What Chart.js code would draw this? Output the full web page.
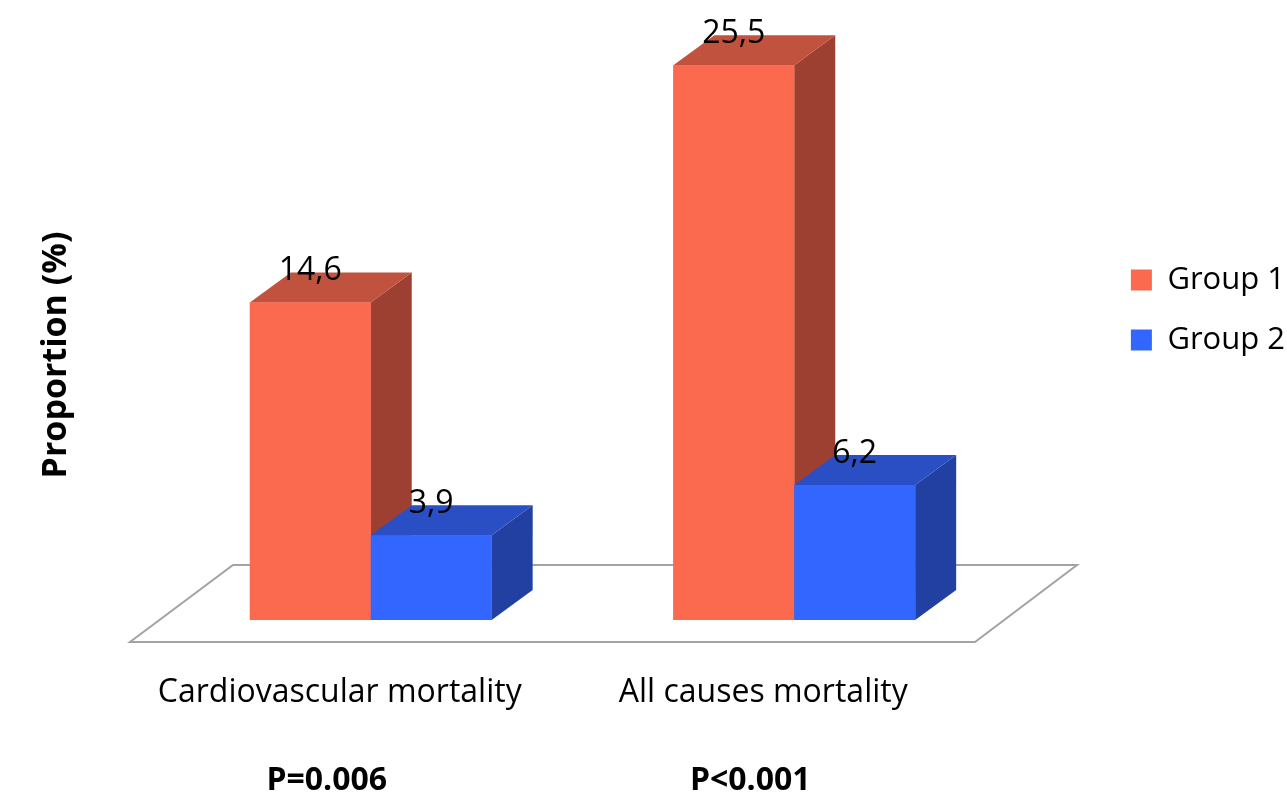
<!DOCTYPE html>
<html>
<head>
<meta charset="utf-8">
<title>Mortality by group</title>
<script src="https://cdn.jsdelivr.net/npm/chart.js@4.4.1/dist/chart.umd.min.js"></script>
<style>
    html, body { margin: 0; padding: 0; background: #ffffff; }
    canvas { display: block; }
</style>
</head>
<body>
<canvas id="mortalityChart" width="1287" height="798"></canvas>
<script>
// Chart data
const categories = ["Cardiovascular mortality", "All causes mortality"];
const seriesLabels = ["Group 1", "Group 2"];
const group1Values = [14.6, 25.5];
const group2Values = [3.9, 6.2];
const pValueLabels = ["P=0.006", "P<0.001"];
const yAxisTitle = "Proportion (%)";
const yMax = 28.5;

const FONT = "'Open Sans', sans-serif";
const PLOT_LEFT = 159;
const PLOT_RIGHT = 1006;
const PLOT_BOTTOM = 620;
const LEGEND_SHIFT = 8; // pushes legend towards the right edge
const DEPTH = { x: 41, y: -30 }; // 3D extrusion of the blocks

const formatValue = (v) => v.toFixed(1).replace(".", ",");

function fillPoly(ctx, pts, color) {
    ctx.beginPath();
    ctx.moveTo(pts[0][0], pts[0][1]);
    for (let i = 1; i < pts.length; i++) ctx.lineTo(pts[i][0], pts[i][1]);
    ctx.closePath();
    ctx.fillStyle = color;
    ctx.fill();
}

// White floor plate under the bars
const floorPlugin = {
    id: "floor",
    beforeDatasetsDraw(chart) {
        const { ctx, chartArea } = chart;
        const front = chartArea.bottom + 22;
        const back = chartArea.bottom - 55;
        const l = chartArea.left - 29;
        const r = chartArea.right - 31;
        ctx.save();
        ctx.beginPath();
        ctx.moveTo(l, front);
        ctx.lineTo(r, front);
        ctx.lineTo(r + 102, back);
        ctx.lineTo(l + 103, back);
        ctx.closePath();
        ctx.fillStyle = "#ffffff";
        ctx.fill();
        ctx.lineWidth = 2;
        ctx.strokeStyle = "#a3a3a3";
        ctx.stroke();
        ctx.restore();
    },
};

// Top and side faces, then the front again so later bars sit in front
const blockPlugin = {
    id: "blocks",
    afterDatasetsDraw(chart) {
        const ctx = chart.ctx;
        chart.data.datasets.forEach((ds, i) => {
            chart.getDatasetMeta(i).data.forEach((bar) => {
                const { x, y, base, width } = bar.getProps(["x", "y", "base", "width"], true);
                const l = x - width / 2;
                const r = x + width / 2;
                ctx.save();
                fillPoly(ctx, [[r, y], [r + DEPTH.x, y + DEPTH.y], [r + DEPTH.x, base + DEPTH.y], [r, base]], ds.sideColor);
                fillPoly(ctx, [[l, y], [l + DEPTH.x, y + DEPTH.y], [r + DEPTH.x, y + DEPTH.y], [r, y]], ds.topColor);
                ctx.restore();
                bar.draw(ctx);
            });
        });

        // value labels above each block
        ctx.save();
        ctx.fillStyle = "#000000";
        ctx.font = `32px ${FONT}`;
        ctx.textAlign = "center";
        ctx.textBaseline = "alphabetic";
        chart.data.datasets.forEach((ds, i) => {
            chart.getDatasetMeta(i).data.forEach((bar, j) => {
                ctx.fillText(formatValue(ds.data[j]), bar.x, bar.y - 22);
            });
        });
        ctx.restore();
    },
};

// Axis title and p-values under the categories
const notesPlugin = {
    id: "notes",
    afterDraw(chart) {
        const { ctx } = chart;
        const xScale = chart.scales.x;
        ctx.save();
        ctx.fillStyle = "#000000";
        ctx.textAlign = "center";
        ctx.textBaseline = "middle";
        ctx.font = `bold 32px ${FONT}`;
        pValueLabels.forEach((t, i) => {
            ctx.fillText(t, xScale.getPixelForValue(i) - 44, 781);
        });
        ctx.translate(56, 355);
        ctx.rotate(-Math.PI / 2);
        ctx.font = `bold 34px ${FONT}`;
        ctx.fillText(yAxisTitle, 0, 0);
        ctx.restore();
    },
};

new Chart(document.getElementById("mortalityChart"), {
    type: "bar",
    data: {
        labels: categories,
        datasets: [
            {
                label: seriesLabels[0],
                data: group1Values,
                backgroundColor: "#fb6a4f",
                topColor: "#c0523e",
                sideColor: "#9e4031",
            },
            {
                label: seriesLabels[1],
                data: group2Values,
                backgroundColor: "#3366ff",
                topColor: "#2a4fc4",
                sideColor: "#2140a2",
            },
        ],
    },
    options: {
        responsive: false,
        animation: false,
        events: [],
        layout: { padding: { left: PLOT_LEFT, top: 0, right: -LEGEND_SHIFT, bottom: 0 } },
        datasets: {
            bar: { categoryPercentage: 0.571, barPercentage: 1, borderWidth: 0 },
        },
        plugins: {
            legend: {
                position: "right",
                fullSize: false,
                labels: {
                    boxWidth: 21,
                    boxHeight: 21,
                    padding: 29,
                    color: "#000000",
                    font: { family: FONT, size: 31 },
                },
            },
            tooltip: { enabled: false },
        },
        scales: {
            x: {
                grid: { display: false },
                border: { display: false },
                ticks: {
                    color: "#000000",
                    font: { family: FONT, size: 32 },
                    padding: 46,
                    labelOffset: -31,
                    maxRotation: 0,
                    minRotation: 0,
                    autoSkip: false,
                },
                afterFit(scale) {
                    scale.height = 798 - PLOT_BOTTOM;
                    scale.paddingLeft = 0;
                    scale.paddingRight = 0;
                },
            },
            y: {
                position: "right",
                min: 0,
                max: yMax,
                grid: { display: false },
                border: { display: false },
                ticks: { display: false },
                afterFit(scale) {
                    const legend = scale.chart.legend;
                    const legendWidth = legend && legend.width ? legend.width : 0;
                    scale.width = Math.max(0, scale.chart.width + LEGEND_SHIFT - legendWidth - PLOT_RIGHT);
                },
            },
        },
    },
    plugins: [floorPlugin, blockPlugin, notesPlugin],
});
</script>
</body>
</html>
